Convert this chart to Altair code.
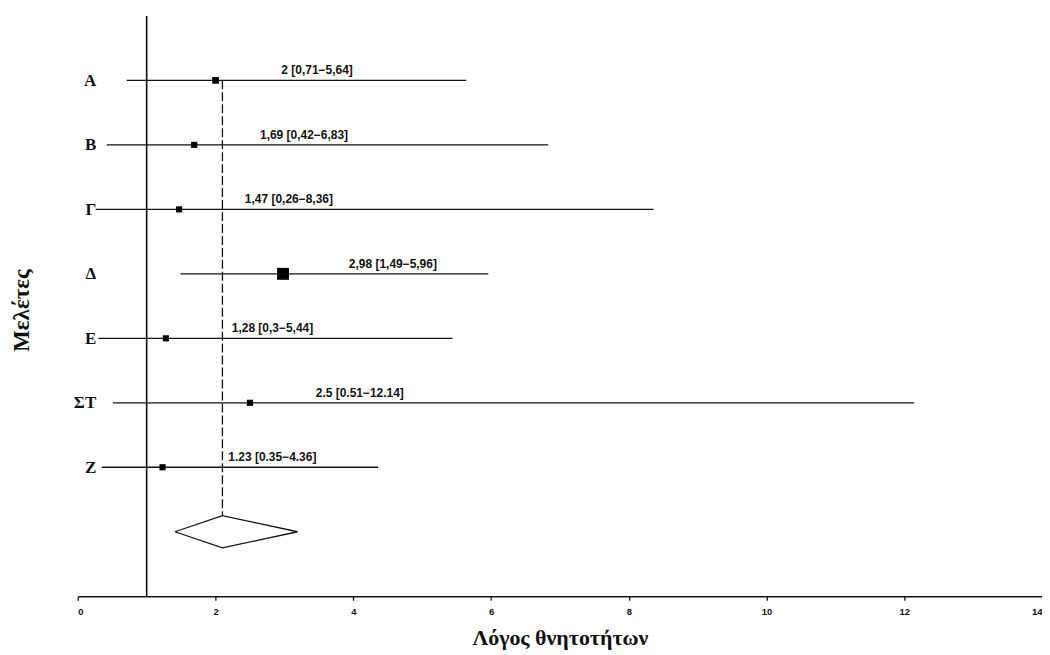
import altair as alt
import pandas as pd

# Study labels (Greek), estimates (odds ratio) and 95% CI
studies = ["Α", "Β", "Γ", "Δ", "Ε", "ΣΤ", "Ζ"]
estimates = [2.0, 1.69, 1.47, 2.98, 1.28, 2.5, 1.23]
lower = [0.71, 0.42, 0.26, 1.49, 0.30, 0.51, 0.35]
upper = [5.64, 6.83, 8.36, 5.96, 5.44, 12.14, 4.36]
ci_labels = [
    "2 [0,71−5,64]",
    "1,69 [0,42−6,83]",
    "1,47 [0,26−8,36]",
    "2,98 [1,49−5,96]",
    "1,28 [0,3−5,44]",
    "2.5 [0.51−12.14]",
    "1.23 [0.35−4.36]",
]
weights = [45, 38, 38, 144, 38, 38, 38]

# Pooled estimate (diamond)
pooled_est = 2.1
pooled_low = 1.41
pooled_up = 3.19

x_ticks = [0, 2, 4, 6, 8, 10, 12, 14]

n = len(studies)
df = pd.DataFrame({
    "study": studies,
    "row": list(range(1, n + 1)),
    "est": estimates,
    "lo": lower,
    "hi": upper,
    "label": ci_labels,
    "w": weights,
})

pool_row = n + 1
diamond = pd.DataFrame({
    "x": [pooled_low, pooled_est, pooled_up, pooled_est, pooled_low],
    "y": [pool_row, pool_row - 0.25, pool_row, pool_row + 0.25, pool_row],
    "o": [0, 1, 2, 3, 4],
})
dashed = pd.DataFrame({"x": [pooled_est], "y": [1], "y2": [pool_row - 0.25]})

label_js = "[''," + ",".join("'" + s + "'" for s in studies) + "][datum.value]"

xscale = alt.Scale(domain=[0, 14], nice=False, zero=False)
yscale = alt.Scale(domain=[0, 9], reverse=True, nice=False, zero=False)

x_axis = alt.Axis(
    values=x_ticks, format="d", title="Λόγος θνητοτήτων", grid=False,
    domainColor="#111", domainWidth=1.5, tickColor="#111", tickSize=4,
    tickWidth=1.3, labelFont="Liberation Sans", labelFontWeight="bold",
    labelFontSize=9.5, labelColor="#111", labelPadding=6,
    titleFont="Liberation Serif", titleFontSize=22, titleFontWeight="bold",
    titleColor="#111", titlePadding=12,
)
y_axis = alt.Axis(
    values=list(range(1, n + 1)), labelExpr=label_js, title="Μελέτες",
    grid=False, domain=False, ticks=False, tickSize=0, offset=-18,
    labelPadding=0, labelFont="Liberation Serif", labelFontSize=17,
    labelFontWeight="bold", labelColor="#111", labelAlign="right",
    titleFont="Liberation Serif", titleFontSize=23, titleFontWeight="bold",
    titleColor="#111", titleAngle=270, titleX=-67, titleY=295,
    titleAlign="center", titleBaseline="alphabetic",
)

base = alt.Chart(df)

ci = base.mark_rule(color="#111", strokeWidth=1.3).encode(
    x=alt.X("lo:Q", scale=xscale, axis=x_axis),
    x2="hi:Q",
    y=alt.Y("row:Q", scale=yscale, axis=y_axis),
)

squares = base.mark_square(color="#000", opacity=1).encode(
    x=alt.X("est:Q", scale=xscale),
    y=alt.Y("row:Q", scale=yscale),
    size=alt.Size("w:Q", scale=None, legend=None),
)

texts = base.mark_text(
    align="left", baseline="bottom", dx=66, dy=-3,
    font="Liberation Sans", fontWeight="bold", fontSize=12, color="#111",
).encode(
    x=alt.X("est:Q", scale=xscale),
    y=alt.Y("row:Q", scale=yscale),
    text="label:N",
)

null_line = alt.Chart(pd.DataFrame({"v": [1]})).mark_rule(
    color="#111", strokeWidth=1.6
).encode(x=alt.X("v:Q", scale=xscale))

dash = alt.Chart(dashed).mark_rule(
    color="#111", strokeWidth=1.3, strokeDash=[9, 3]
).encode(
    x=alt.X("x:Q", scale=xscale),
    y=alt.Y("y:Q", scale=yscale),
    y2="y2:Q",
)

dia = alt.Chart(diamond).mark_line(color="#111", strokeWidth=1.3).encode(
    x=alt.X("x:Q", scale=xscale),
    y=alt.Y("y:Q", scale=yscale),
    order="o:Q",
)

chart = alt.layer(ci, null_line, dash, dia, squares, texts).properties(
    width=967, height=582,
    autosize="none",
    padding={"left": 70, "top": 7, "right": 0, "bottom": 55},
).configure(background="white").configure_view(stroke=None)

chart.save("out.html", embed_options={"renderer": "svg", "actions": False})
